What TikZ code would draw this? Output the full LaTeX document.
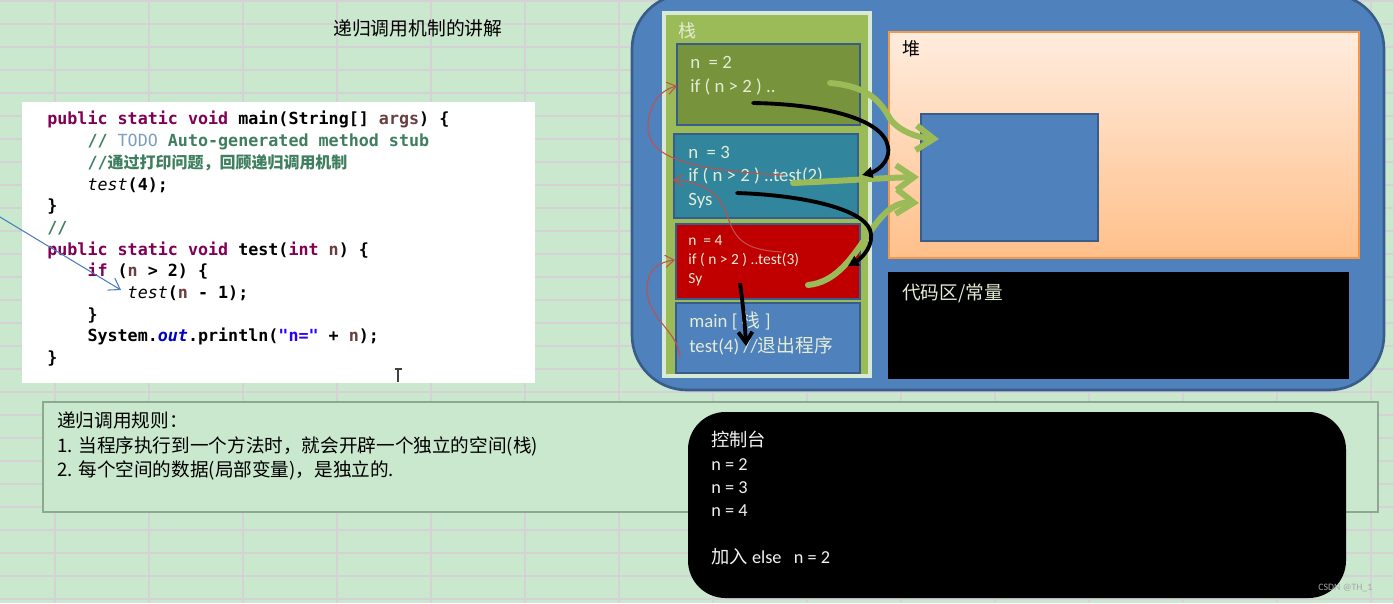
\documentclass[tikz,border=0pt]{standalone}
\usepackage{fontspec}
\setmainfont{Carlito}
\newfontfamily\cjk{Noto Sans CJK SC}
\newfontfamily\codefont{DejaVu Sans Mono}
\usetikzlibrary{arrows.meta}
\usetikzlibrary{fit}

\definecolor{sheet}{RGB}{202,232,205}
\definecolor{gridline}{RGB}{212,210,212}
\definecolor{jvmblue}{RGB}{79,129,189}
\definecolor{jvmedge}{RGB}{56,93,138}
\definecolor{stackgreen}{RGB}{155,187,89}
\definecolor{stackrim}{RGB}{216,234,214}
\definecolor{frameolive}{RGB}{119,147,60}
\definecolor{frameteal}{RGB}{49,133,156}
\definecolor{framered}{RGB}{192,0,0}
\definecolor{frametext}{RGB}{228,236,214}
\definecolor{heaptop}{RGB}{255,236,222}
\definecolor{heapbot}{RGB}{255,192,138}
\definecolor{heapedge}{RGB}{247,150,70}
\definecolor{callred}{RGB}{192,80,77}
\definecolor{kwpurple}{RGB}{127,0,85}
\definecolor{varbrown}{RGB}{106,62,62}
\definecolor{cmtgreen}{RGB}{63,127,95}
\definecolor{todoblue}{RGB}{127,159,191}
\definecolor{fieldblue}{RGB}{0,0,192}
\definecolor{strblue}{RGB}{42,0,255}
\definecolor{rulesedge}{RGB}{140,168,143}
\definecolor{arrowblue}{RGB}{74,126,187}

\newcommand{\jkw}[1]{\textcolor{kwpurple}{#1}}
\newcommand{\jvar}[1]{\textcolor{varbrown}{#1}}
\newcommand{\jcmt}[1]{\textcolor{cmtgreen}{#1}}
\newcommand{\jtab}{\phantom{xxxx}}
\newcommand{\jcall}[1]{\textit{\mdseries #1}}

\begin{document}
\begin{tikzpicture}[x=0.02cm, y=-0.02cm,
    frame/.style={draw=jvmedge, line width=1.4pt, inner sep=0pt},
    frametxt/.style={anchor=north west, align=left, inner sep=0pt, text=frametext,
        font=\fontsize{10.7}{13.6}\selectfont},
    objref/.style={draw=stackgreen, line width=3.4pt, line cap=round,
        -{Straight Barb[length=10pt,width=14pt]}},
    back/.style={line width=2.2pt, line cap=round, -{Triangle[length=6pt,width=6pt]}},
    callback/.style={draw=callred, line width=0.6pt, -{Straight Barb[length=5pt,width=7pt]}}]
    \useasboundingbox (0,0) rectangle (1393,603);
    \fill[sheet] (0,0) rectangle (1393,603);
    \foreach \gx in {55,149,...,1393}
        \draw[gridline, line width=0.8pt] (\gx,0) -- (\gx,603);
    \foreach \gy in {1,24,...,603}
        \draw[gridline, line width=0.8pt] (0,\gy) -- (1393,\gy);

    \node[anchor=west, inner sep=0pt, font=\cjk\fontsize{10.7}{12}\selectfont] (title) at (333,28) {递归调用机制的讲解};

    \node[fit={(22,102) (535,383)}, inner sep=0pt, fill=white] (codebox) {};
    \node[anchor=north west, align=left, inner sep=0pt,
        font=\codefont\bfseries\fontsize{9.5}{12.35}\selectfont] (code) at (47,111) {%
        \jkw{public static void} main(String[] \jvar{args}) \{\\
        \jtab\jcmt{// {\color{todoblue}\mdseries TODO} Auto-generated method stub}\\
        \jtab\jcmt{//{\cjk\fontsize{9.1}{12.35}\selectfont 通过打印问题，回顾递归调用机制}}\\
        \jtab\jcall{test}(4);\\
        \}\\
        \jcmt{//}\\
        \jkw{public static void} test(\jkw{int} \jvar{n}) \{\\
        \jtab\jkw{if} (\jvar{n} > 2) \{\\
        \jtab\jtab\jcall{test}(\jvar{n} - 1);\\
        \jtab\}\\
        \jtab System.\textcolor{fieldblue}{\textit{out}}.println(\textcolor{strblue}{"n="} + \jvar{n});\\
        \}};
    \coordinate (lnk0) at (-5,214);
    \coordinate (lnk1) at (121,290);
    \draw[arrowblue, line width=0.6pt, -{Straight Barb[length=6pt,width=8pt]}] (lnk0) -- (lnk1);
    \draw[black!75, line width=0.9pt] (398,369) -- (398,382) (394.5,369) -- (401.5,369);

    \node[fit={(43,402) (1378,512)}, inner sep=0pt, fill=sheet, draw=rulesedge, line width=0.6pt] (rulebox) {};
    \node[anchor=north west, align=left, inner sep=0pt,
        font=\cjk\fontsize{10.6}{14.2}\selectfont] (rules) at (57,411) {%
        递归调用规则：\\
        1. 当程序执行到一个方法时，就会开辟一个独立的空间(栈)\\
        2. 每个空间的数据(局部变量)，是独立的.};

    \node[fit={(632,-6) (1384,390)}, inner sep=0pt, fill=jvmblue, draw=jvmedge,
        line width=1.5pt, rounded corners=1.1cm] (jvm) {};

    \node[fit={(664,13) (870,376)}, inner sep=0pt, fill=stackgreen, draw=stackrim, line width=2.5pt] (stack) {};
    \node[anchor=west, inner sep=0pt, text=frametext, font=\cjk\fontsize{10.2}{12}\selectfont] (stacklbl) at (678,31) {栈};
    \node[frame, fill=frameolive, fit={(677,44) (860,125)}] (f2) {};
    \node[frame, fill=frameteal, fit={(674,134) (858,218)}] (f3) {};
    \node[frame, fill=framered, fit={(676,224) (860,299)}] (f4) {};
    \node[frame, fill=jvmblue, fit={(676,303) (860,373)}] (fmain) {};
    \node[frametxt] (t2) at (690,56) {n\ \ = 2\\if ( n > 2 ) ..};
    \node[frametxt, font=\fontsize{10.7}{13.3}\selectfont] (t3) at (688,146) {n\ \ = 3\\if ( n > 2 ) ..test(2)\\Sys};
    \node[frametxt, font=\fontsize{8.8}{10.8}\selectfont] (t4) at (688,235) {n\ \ = 4\\if ( n > 2 ) ..test(3)\\Sy};
    \node[frametxt, font=\fontsize{10.7}{14.2}\selectfont] (tmain) at (689,311) {main [ {\cjk 栈} ]\\test(4) //{\cjk 退出程序}};

    \node[fit={(889,32) (1359,258)}, inner sep=0pt, draw=heapedge, line width=0.8pt,
        top color=heaptop, bottom color=heapbot] (heap) {};
    \node[anchor=west, inner sep=0pt, font=\cjk\fontsize{10.2}{12}\selectfont] (heaplbl) at (902,49) {堆};
    \node[fit={(921,114) (1098,241)}, inner sep=0pt, fill=jvmblue, draw=jvmedge, line width=1.3pt] (obj) {};
    \node[fit={(888,272) (1349,379)}, inner sep=0pt, fill=black] (codearea) {};
    \node[anchor=west, inner sep=0pt, text=frametext, font=\cjk\fontsize{10.6}{12}\selectfont] (codelbl) at (902,293) {代码区/常量};

    \node[fit={(688,412) (1346,598)}, inner sep=0pt, fill=black, rounded corners=0.75cm] (console) {};
    \node[anchor=north west, align=left, inner sep=0pt, text=white!90!gray,
        font=\fontsize{10.4}{13.3}\selectfont] (output) at (711,431) {%
        {\cjk 控制台}\\n = 2\\n = 3\\n = 4\\[13.3pt]{\cjk 加入} else\ \ \ n = 2};
    \node[anchor=west, inner sep=0pt, text=gray!70, font=\fontsize{5.6}{6}\selectfont] (mark) at (1318,588) {CSDN @TH\_1};

    \coordinate (ga0) at (830,83);
    \coordinate (ga1) at (939,139);
    \coordinate (gb0) at (793,183);
    \coordinate (gb1) at (919,177);
    \coordinate (gc0) at (808,285);
    \coordinate (gc1) at (919,203);
    \draw[objref] (ga0) .. controls (865,86) and (879,99) .. (889,117) .. controls (897,131) and (919,138) .. (ga1);
    \draw[objref] (gb0) .. controls (840,181) and (880,178) .. (gb1);
    \draw[objref] (gc0) .. controls (860,280) and (870,200) .. (gc1);

    \coordinate (ba0) at (753,103);
    \coordinate (ba1) at (862,175);
    \coordinate (bb0) at (737,193);
    \coordinate (bb1) at (848,266);
    \coordinate (bc0) at (740,283);
    \coordinate (bc1) at (746,346);
    \draw[back] (ba0) .. controls (820,104) and (884,118) .. (888,147) .. controls (891,163) and (874,172) .. (ba1);
    \draw[back] (bb0) .. controls (800,195) and (862,208) .. (870,230) .. controls (875,245) and (862,258) .. (bb1);
    \draw[line width=2.2pt, -{Straight Barb[length=6pt,width=8pt]}] (bc0) .. controls (743,305) and (745,325) .. (bc1);

    \coordinate (ra0) at (783,175);
    \coordinate (ra1) at (677,86);
    \coordinate (rb0) at (782,252);
    \coordinate (rb1) at (673,180);
    \coordinate (rc0) at (680,358);
    \coordinate (rc1) at (675,260);
    \draw[callback] (ra0) .. controls (700,171) and (648,160) .. (648,128) .. controls (648,105) and (660,90) .. (ra1);
    \draw[callback] (rb0) .. controls (745,250) and (735,240) .. (727,215) .. controls (718,190) and (700,182) .. (rb1);
    \draw[callback] (rc0) .. controls (678,330) and (648,320) .. (647,290) .. controls (647,268) and (660,262) .. (rc1);
\end{tikzpicture}
\end{document}
